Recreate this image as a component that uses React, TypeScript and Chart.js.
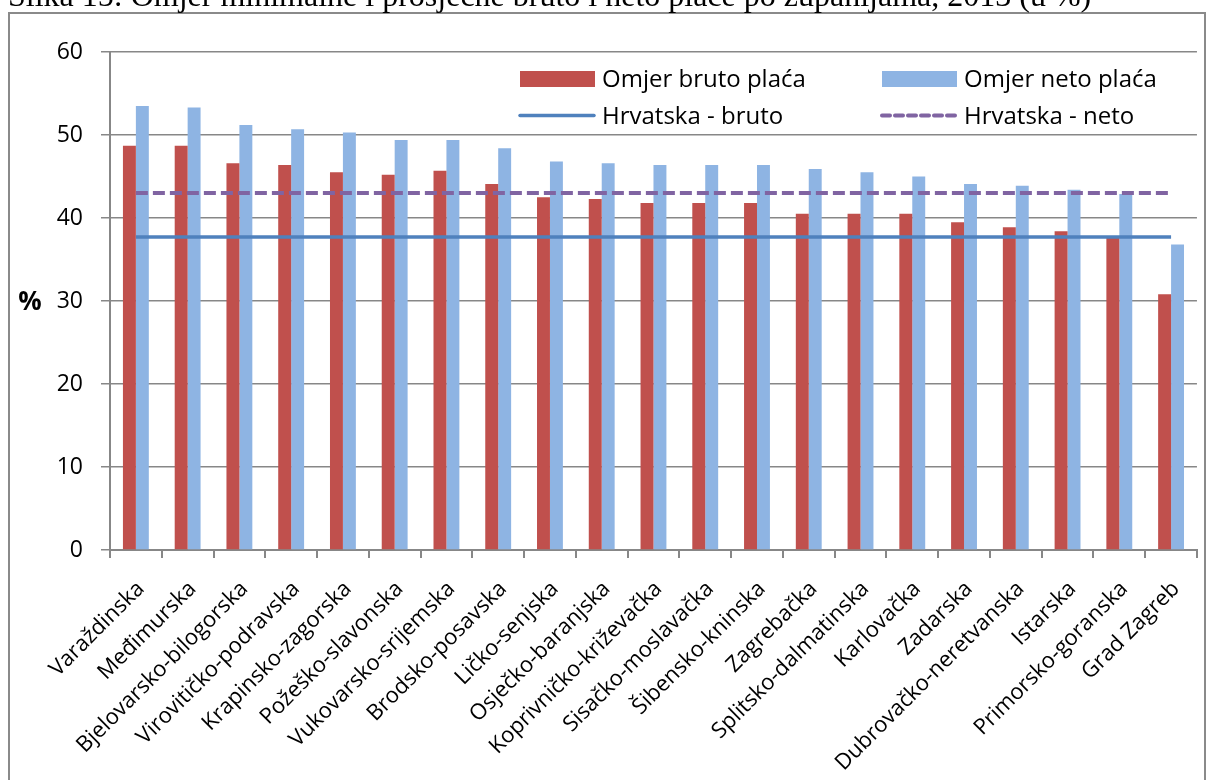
import React, { useEffect, useRef } from "react";
import { Chart, registerables } from "chart.js";

Chart.register(...registerables);

const titleText =
  "Slika 15: Omjer minimalne i prosječne bruto i neto plaće po županijama, 2013 (u %)";

const categories = [
  "Varaždinska",
  "Međimurska",
  "Bjelovarsko-bilogorska",
  "Virovitičko-podravska",
  "Krapinsko-zagorska",
  "Požeško-slavonska",
  "Vukovarsko-srijemska",
  "Brodsko-posavska",
  "Ličko-senjska",
  "Osječko-baranjska",
  "Koprivničko-križevačka",
  "Sisačko-moslavačka",
  "Šibensko-kninska",
  "Zagrebačka",
  "Splitsko-dalmatinska",
  "Karlovačka",
  "Zadarska",
  "Dubrovačko-neretvanska",
  "Istarska",
  "Primorsko-goranska",
  "Grad Zagreb",
];

const brutoValues = [
  48.7, 48.7, 46.6, 46.4, 45.5, 45.2, 45.7, 44.1, 42.5, 42.3, 41.8, 41.8, 41.8,
  40.5, 40.5, 40.5, 39.5, 38.9, 38.4, 37.8, 30.8,
];

const netoValues = [
  53.5, 53.3, 51.2, 50.7, 50.3, 49.4, 49.4, 48.4, 46.8, 46.6, 46.4, 46.4, 46.4,
  45.9, 45.5, 45.0, 44.1, 43.9, 43.4, 42.9, 36.8,
];

const hrvatskaBruto = 37.7;
const hrvatskaNeto = 43.0;

const seriesLabels = [
  "Omjer bruto plaća",
  "Omjer neto plaća",
  "Hrvatska - bruto",
  "Hrvatska - neto",
];

const yAxisTitle = "%";

const RED = "#C0504D";
const BLUE = "#8EB4E3";
const LINE_BLUE = "#4F81BD";
const PURPLE = "#8064A2";
const GRID = "#878787";
const FONT = "'Open Sans', 'DejaVu Sans', sans-serif";

const decorPlugin = {
  id: "decor",
  beforeDraw(chart: any) {
    const ctx = chart.ctx;
    ctx.save();
    ctx.fillStyle = "#ffffff";
    ctx.fillRect(0, 0, chart.width, chart.height);
    // frame
    ctx.strokeStyle = "#8a8a8a";
    ctx.lineWidth = 2;
    ctx.strokeRect(9, 13, 1196, 820);
    // title (cut off at top)
    ctx.fillStyle = "#000";
    ctx.font = "32px 'Liberation Serif', 'Times New Roman', serif";
    ctx.textBaseline = "alphabetic";
    ctx.textAlign = "left";
    ctx.fillText(titleText, 8, 6);
    ctx.restore();
  },
  afterDraw(chart: any) {
    const ctx = chart.ctx;
    const ds = chart.data.datasets;
    ctx.save();
    // y title
    ctx.fillStyle = "#000";
    ctx.font = `bold 26px ${FONT}`;
    ctx.textAlign = "center";
    ctx.textBaseline = "middle";
    ctx.fillText(yAxisTitle, 30, 303);

    // legend
    ctx.font = `24px ${FONT}`;
    ctx.textAlign = "left";
    ctx.textBaseline = "alphabetic";
    const cols = [519, 881];
    const textOff = 83;
    const rows = [87, 124];
    const bars = ds.filter((d: any) => d.type !== "line");
    const lines = ds.filter((d: any) => d.type === "line");
    bars.forEach((d: any, i: number) => {
      ctx.fillStyle = d.backgroundColor;
      ctx.fillRect(cols[i] + 1, 71, 75, 16);
      ctx.fillStyle = "#000";
      ctx.fillText(d.label, cols[i] + textOff, rows[0]);
    });
    lines.forEach((d: any, i: number) => {
      ctx.strokeStyle = d.borderColor;
      ctx.lineWidth = d.borderWidth;
      ctx.lineCap = "round";
      ctx.setLineDash(d.borderDash ? [8, 5] : []);
      ctx.beginPath();
      ctx.moveTo(cols[i] + 1, 115.5);
      ctx.lineTo(cols[i] + 75, 115.5);
      ctx.stroke();
      ctx.setLineDash([]);
      ctx.fillStyle = "#000";
      ctx.fillText(d.label, cols[i] + textOff, rows[1]);
    });
    ctx.restore();
  },
};

export default function App() {
  const canvasRef = useRef<HTMLCanvasElement | null>(null);

  useEffect(() => {
    const canvas = canvasRef.current;
    if (!canvas) return;
    const chart = new Chart(canvas, {
      type: "bar",
      data: {
        labels: categories,
        datasets: [
          {
            type: "line",
            label: seriesLabels[2],
            data: categories.map(() => hrvatskaBruto),
            borderColor: LINE_BLUE,
            borderWidth: 3.5,
            pointRadius: 0,
            fill: false,
            order: 1,
          } as any,
          {
            type: "line",
            label: seriesLabels[3],
            data: categories.map(() => hrvatskaNeto),
            borderColor: PURPLE,
            borderWidth: 4,
            borderDash: [12, 5],
            pointRadius: 0,
            fill: false,
            order: 0,
          } as any,
          {
            type: "bar",
            label: seriesLabels[0],
            data: brutoValues,
            backgroundColor: RED,
            categoryPercentage: 0.5,
            barPercentage: 1,
            order: 2,
          } as any,
          {
            type: "bar",
            label: seriesLabels[1],
            data: netoValues,
            backgroundColor: BLUE,
            categoryPercentage: 0.5,
            barPercentage: 1,
            order: 2,
          } as any,
        ],
      },
      options: {
        responsive: false,
        animation: false,
        devicePixelRatio: 1,
        layout: { padding: { top: 52, left: 0, right: 11, bottom: 0 } },
        plugins: {
          legend: { display: false },
          tooltip: { enabled: false },
          title: { display: false },
        },
        scales: {
          x: {
            type: "category",
            offset: true,
            grid: {
              offset: true,
              drawOnChartArea: false,
              drawTicks: true,
              tickLength: 8,
              color: GRID,
              lineWidth: 2,
            },
            border: { display: true, color: GRID, width: 2 },
            ticks: {
              autoSkip: false,
              maxRotation: 45,
              minRotation: 45,
              color: "#000",
              padding: 18,
              labelOffset: 5,
              font: { family: FONT, size: 22 },
            },
            afterFit: (s: any) => {
              s.height = 230;
            },
          },
          y: {
            min: 0,
            max: 60,
            ticks: {
              stepSize: 10,
              color: "#000",
              padding: 18,
              font: { family: FONT, size: 23 },
            },
            grid: {
              color: GRID,
              lineWidth: 1.5,
              tickLength: 9,
            },
            border: { display: true, color: GRID, width: 2 },
            afterFit: (s: any) => {
              s.width = 110;
            },
          },
        },
      },
      plugins: [decorPlugin],
    });
    return () => chart.destroy();
  }, []);

  return (
    <div
      style={{
        position: "fixed",
        left: 0,
        top: 0,
        width: 1208,
        height: 780,
        overflow: "hidden",
        background: "#fff",
      }}
    >
      <canvas ref={canvasRef} width={1208} height={780} style={{ display: "block" }} />
    </div>
  );
}
